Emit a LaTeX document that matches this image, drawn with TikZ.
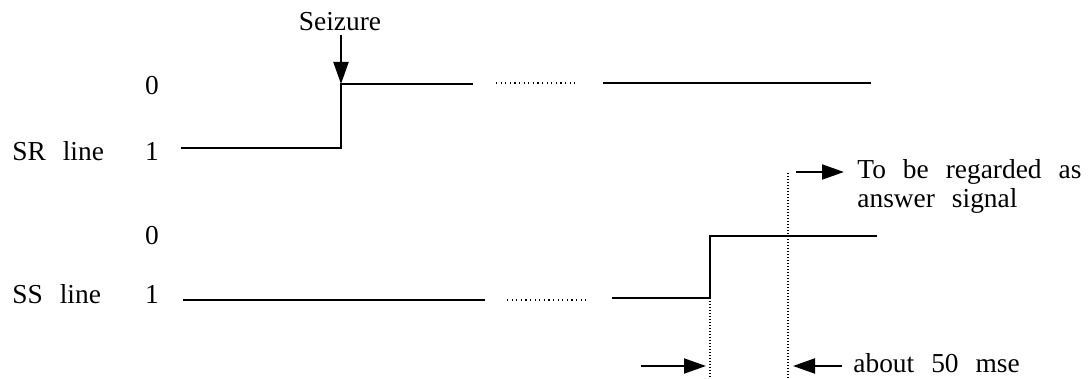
\documentclass[tikz,border=0pt]{standalone}
\usepackage{fontspec}
\setmainfont{Liberation Serif}
\usetikzlibrary{arrows.meta}
\newcommand\lblfont{\fontsize{13.7}{15}\selectfont}
\newcommand\widespace{\spaceskip=0.62em\relax}
\begin{document}
\begin{tikzpicture}[x=0.5pt,y=-0.5pt,
  sig/.style={line width=1pt},
  dotsig/.style={line width=1.2pt,dash pattern=on 0.6pt off 1.7pt},
  guide/.style={line width=0.55pt,dash pattern=on 0.5pt off 1pt},
  arr/.style={line width=1pt,-{Triangle[length=11pt,width=7.5pt]}},
  lbl/.style={inner sep=0pt,font=\lblfont,execute at begin node=\widespace}]
\useasboundingbox (0,0) rectangle (1092,379);
% labels
\node[lbl,anchor=base] (srz) at (152,95) {0};
\node[lbl,anchor=base] (sro) at (152,161) {1};
\node[lbl,anchor=base west] (srl) at (12,161) {SR line};
\node[lbl,anchor=base] (ssz) at (152,245) {0};
\node[lbl,anchor=base] (sso) at (152,303) {1};
\node[lbl,anchor=base west] (ssl) at (12,303) {SS line};
\node[lbl,anchor=base] (seiz) at (340,31) {Seizure};
\node[lbl,anchor=base west] (ans1) at (857,179) {To be regarded as};
\node[lbl,anchor=base west] (ans2) at (857,208) {answer signal};
\node[lbl,anchor=base west] (abt) at (853,372) {about 50 mse};
% SR line waveform
\coordinate (a0) at (181,148);
\coordinate (a1) at (341,148);
\coordinate (a2) at (341,84);
\coordinate (a3) at (473,84);
\coordinate (a4) at (496,83);
\coordinate (a5) at (577,83);
\coordinate (a6) at (603,83);
\coordinate (a7) at (871,83);
\draw[sig] (a0) -- (a1) -- (a2) -- (a3);
\draw[dotsig] (a4) -- (a5);
\draw[sig] (a6) -- (a7);
% seizure arrow
\coordinate (s0) at (341,35);
\draw[arr] (s0) -- (a2);
% SS line waveform
\coordinate (b0) at (183,300);
\coordinate (b1) at (485,300);
\coordinate (b2) at (507,300);
\coordinate (b3) at (588,300);
\coordinate (b4) at (612,298);
\coordinate (b5) at (710,298);
\coordinate (b6) at (710,236);
\coordinate (b7) at (877,236);
\draw[sig] (b0) -- (b1);
\draw[dotsig] (b2) -- (b3);
\draw[sig] (b4) -- (b5) -- (b6) -- (b7);
% guides
\coordinate (g0) at (710,379);
\coordinate (g1) at (788,173);
\coordinate (g2) at (788,379);
\draw[guide] (b5) -- (g0);
\draw[guide] (g1) -- (g2);
% arrows
\coordinate (t0) at (796,172);
\coordinate (t1) at (844,172);
\draw[arr] (t0) -- (t1);
\coordinate (l0) at (641,366);
\coordinate (l1) at (706,366);
\draw[arr] (l0) -- (l1);
\coordinate (r0) at (842,366);
\coordinate (r1) at (793,366);
\draw[arr] (r0) -- (r1);
\end{tikzpicture}
\end{document}
